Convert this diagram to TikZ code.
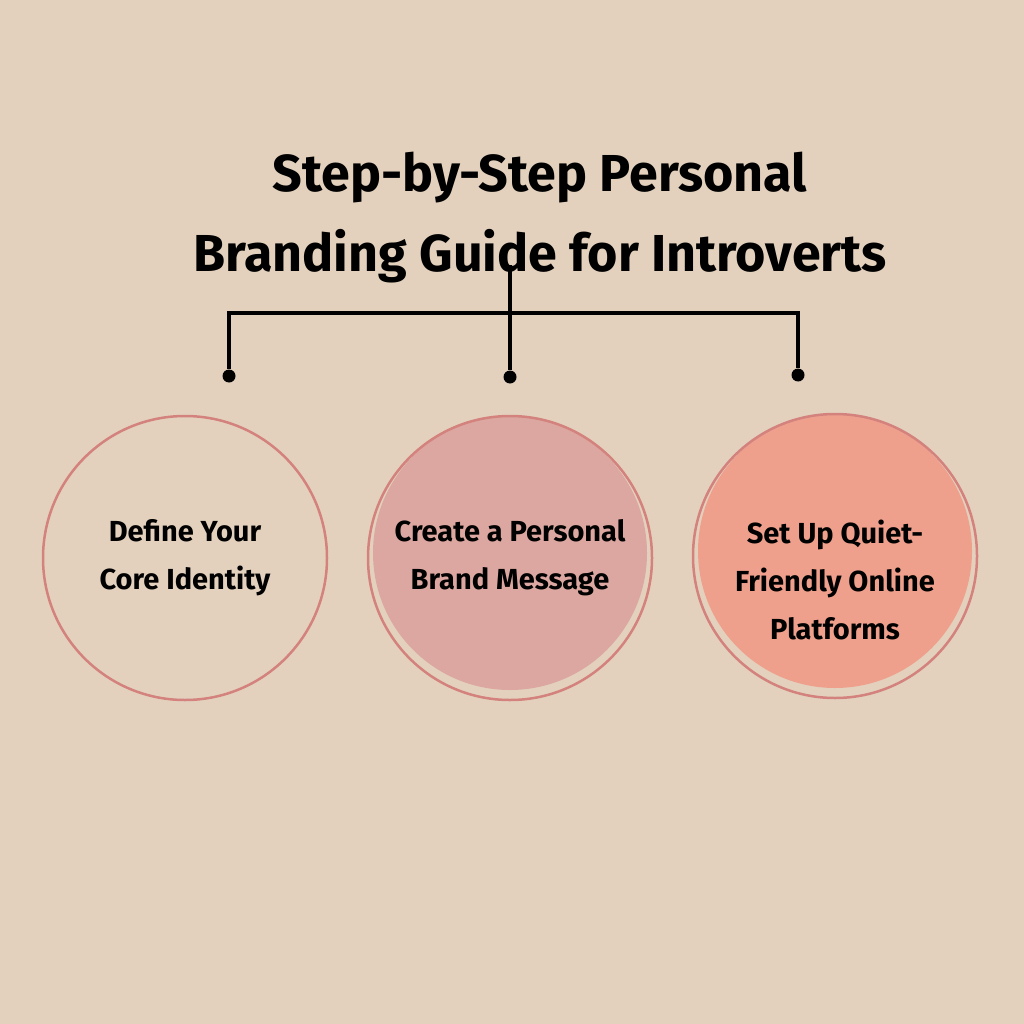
\documentclass[tikz,border=0pt]{standalone}
\usepackage{fontspec}
\setmainfont{Fira Sans}
\definecolor{bg}{RGB}{227,209,189}
\definecolor{ring}{RGB}{212,130,126}
\definecolor{midf}{RGB}{220,167,160}
\definecolor{rightf}{RGB}{239,160,140}
\begin{document}
\begin{tikzpicture}[x=1pt,y=-1pt,
  circ/.style={circle,minimum size=284pt,inner sep=0pt,line width=2.5pt,draw=ring},
  lbl/.style={align=center,font=\fontsize{29}{48}\selectfont\bfseries,text=black},
  conn/.style={line width=3.5pt,black},
  dot/.style={circle,fill=black,inner sep=0pt,minimum size=13pt}]
\fill[bg] (0,0) rectangle (1024,1024);
\node[font=\fontsize{52}{80}\selectfont\bfseries,align=center] (title) at (540,218) {Step-by-Step Personal\\Branding Guide for Introverts};
\coordinate (top) at (510,265);
\coordinate (hl) at (229,313);
\coordinate (hr) at (798,313);
\node[dot] (d1) at (229,376) {};
\node[dot] (d2) at (510,377) {};
\node[dot] (d3) at (798,375) {};
\draw[conn] ([xshift=-1.75pt]hl) -- ([xshift=1.75pt]hr);
\draw[conn] (top) -- (d2);
\draw[conn] (hl) -- (d1);
\draw[conn] (hr) -- (d3);
\node[circ] (c1) at (185,558) {};
\fill[midf] (510,553) circle (137);
\node[circ] (c2) at (510,558) {};
\fill[rightf] (835,551) circle (137);
\node[circ] (c3) at (835,556) {};
\node[lbl] at (c1) {Define Your\\Core Identity};
\node[lbl] at (c2) {Create a Personal\\Brand Message};
\node[lbl] at ([yshift=-24pt]c3) {Set Up Quiet-\\Friendly Online\\Platforms};
\end{tikzpicture}
\end{document}
